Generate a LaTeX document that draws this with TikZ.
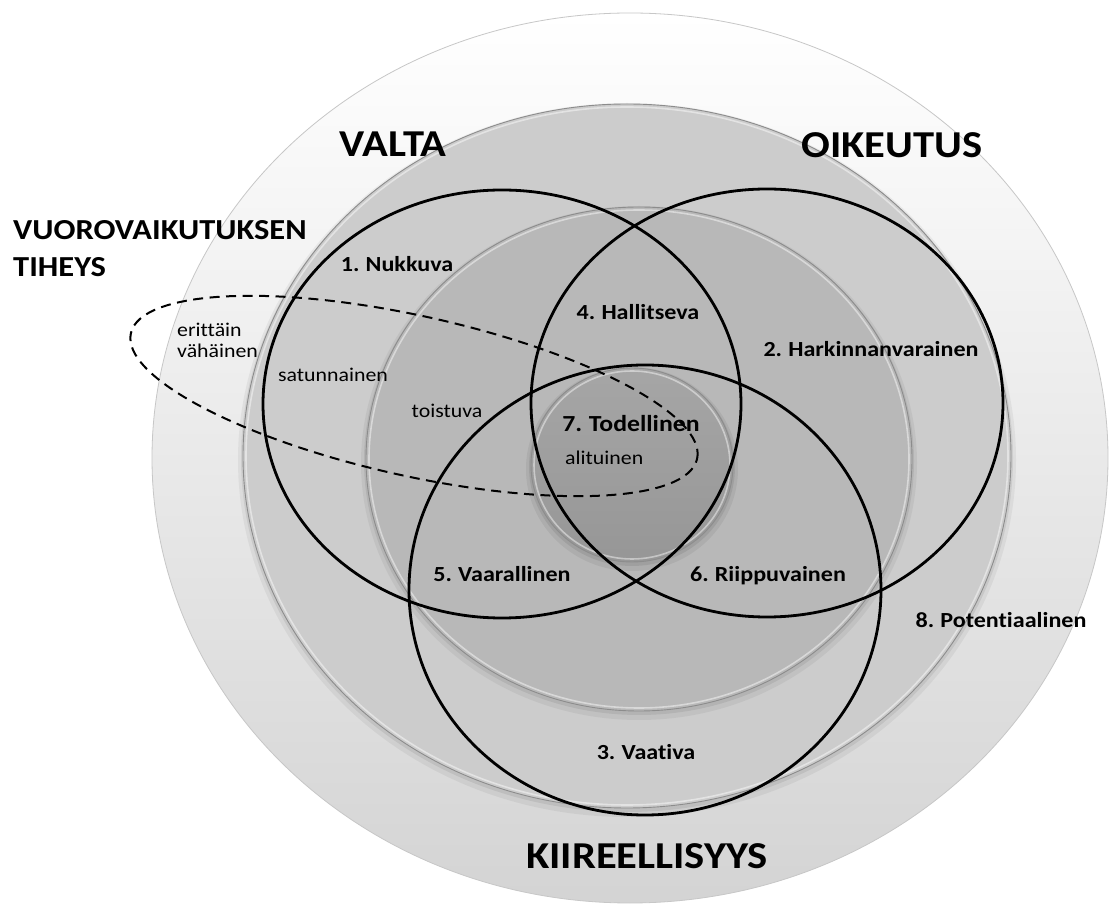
\documentclass[tikz,border=0pt]{standalone}
\usepackage{fontspec}
\setmainfont{Carlito}[FakeStretch=1.12, Ligatures=NoCommon, WordSpace=0.8]
\begin{document}
\begin{tikzpicture}[x=1pt,y=1pt,
  heading/.style={font=\bfseries\fontsize{38}{40}\selectfont, anchor=base, inner sep=0pt},
  subheading/.style={font=\bfseries\fontsize{29}{37}\selectfont, anchor=base west, inner sep=0pt, align=left},
  zonelabel/.style={font=\bfseries\fontsize{21.5}{24}\selectfont, anchor=base, inner sep=0pt},
  densitylabel/.style={font=\fontsize{19.5}{21}\selectfont, anchor=base, inner sep=0pt},
  setring/.style={draw=black, line width=2.8pt},
  densityline/.style={draw=black, line width=2pt, dash pattern=on 10pt off 6.5pt},
  rim/.style={draw=black!45, line width=0.9pt},
  glow/.style={draw=white, line width=1.6pt, opacity=0.45}
]
\useasboundingbox (0,0) rectangle (1109,903);
\fill[white] (0,0) rectangle (1109,903);

% outermost zone: potential stakeholders
\shade[top color=white, bottom color=black!17] (630,445) ellipse [x radius=478, y radius=445];
\draw[black!22, line width=0.8pt] (630,445) ellipse [x radius=478, y radius=445];

% second zone
\fill[black, opacity=0.05] (627,443) ellipse [x radius=389, y radius=357];
\fill[black, opacity=0.07] (627,445) ellipse [x radius=386, y radius=354];
\fill[black!20] (627,447) ellipse [x radius=384, y radius=352];
\draw[rim] (627,447) ellipse [x radius=384, y radius=352];
\draw[glow] (627,447) ellipse [x radius=381, y radius=349];

% third zone
\fill[black, opacity=0.05] (639,440) ellipse [x radius=278, y radius=257];
\fill[black, opacity=0.07] (639,442) ellipse [x radius=275, y radius=254];
\fill[black!28] (639,444) ellipse [x radius=273, y radius=252];
\draw[rim] (639,444) ellipse [x radius=273, y radius=252];
\draw[glow] (639,444) ellipse [x radius=270, y radius=249];

% core zone
\fill[black, opacity=0.06] (632,434) ellipse [x radius=106, y radius=102];
\fill[black, opacity=0.08] (632,436) ellipse [x radius=103, y radius=99];
\shade[top color=black!35, bottom color=black!41] (632,438) ellipse [x radius=101, y radius=97];
\draw[rim] (632,438) ellipse [x radius=101, y radius=97];
\draw[glow] (632,438) ellipse [x radius=98, y radius=94];

% the three attribute circles
\draw[setring] (502,499) ellipse [x radius=239, y radius=214];
\draw[setring] (767,500) ellipse [x radius=236, y radius=214];
\draw[setring] (645,313) ellipse [x radius=236, y radius=225];

% interaction density
\draw[densityline, rotate around={-12.5:(414,507)}] (414,507) ellipse [x radius=290, y radius=80];

% attribute headings
\node[heading] (valta) at (393,746) {VALTA};
\node[heading] (oikeutus) at (892,745) {OIKEUTUS};
\node[heading] (kiire) at (647,35) {KIIREELLISYYS};
\node[subheading] (tiheys) at (13,626) {VUOROVAIKUTUKSEN\\TIHEYS};

% stakeholder classes
\node[zonelabel] (nukkuva) at (397,631) {1. Nukkuva};
\node[zonelabel] (hallitseva) at (638,583) {4. Hallitseva};
\node[zonelabel] (harkinta) at (871,546) {2. Harkinnanvarainen};
\node[zonelabel, font=\bfseries\fontsize{23}{25}\selectfont] (todellinen) at (631,471) {7. Todellinen};
\node[zonelabel] (vaarallinen) at (502,321) {5. Vaarallinen};
\node[zonelabel] (riippuvainen) at (768,321) {6. Riippuvainen};
\node[zonelabel] (vaativa) at (646,143) {3. Vaativa};
\node[zonelabel] (potentiaalinen) at (1001,275) {8. Potentiaalinen};

% density levels
\node[densitylabel, anchor=base west] (erittain) at (177,566) {erittäin};
\node[densitylabel, anchor=base west] (vahainen) at (177,545) {vähäinen};
\node[densitylabel] (satunnainen) at (333,521) {satunnainen};
\node[densitylabel] (toistuva) at (447,485) {toistuva};
\node[densitylabel, anchor=base west] (alituinen) at (565,438) {alituinen};
\end{tikzpicture}
\end{document}
